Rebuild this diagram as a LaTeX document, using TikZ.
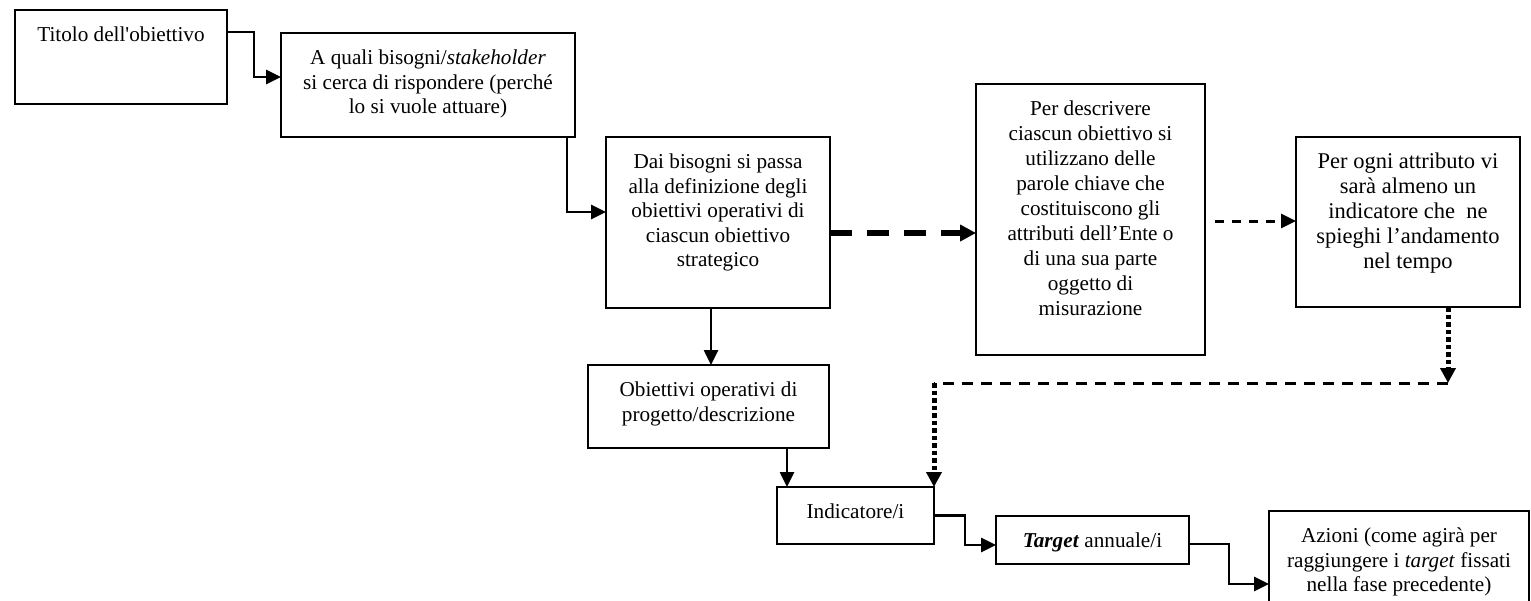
\documentclass[tikz,border=0pt]{standalone}
\usepackage{fontspec}
\setmainfont{Liberation Serif}
\usetikzlibrary{arrows.meta,calc}

\newcommand{\boxtext}[3]{\parbox[c][#2][t]{#1}{\centering\rule{0pt}{31.5pt}#3}}

\tikzset{every picture/.style={line width=2pt}}
\tikzset{
  stepbox/.style={draw, rectangle, anchor=north west, inner sep=0pt, outer sep=0pt, line width=2pt, font=\fontsize{21.2}{24.6}\selectfont},
  conn/.style={line width=2.6pt, -{Triangle[length=15pt,width=14pt]}},
  thickdash/.style={line width=5.5pt, dash pattern={on 22pt off 15pt}, -{Triangle[length=16pt,width=16pt]}},
  thindash/.style={line width=3pt, dash pattern={on 9pt off 8pt}, shorten <=10pt, -{Triangle[length=15pt,width=14pt]}},
  longdash/.style={line width=3pt, dash pattern={on 11pt off 8pt}},
  dotarrow/.style={line width=5pt, dash pattern={on 4.5pt off 3pt}, -{Triangle[length=15pt,width=15pt]}},
}

\begin{document}
\begin{tikzpicture}[x=1pt,y=1pt,yscale=-1,xscale=1]
\useasboundingbox (0,0) rectangle (1531,600);
\clip (0,0) rectangle (1531,600);

%Shape: Rectangle
\node[stepbox] (titolo) at (15,10) {\boxtext{212pt}{94pt}{Titolo dell\textquotesingle obiettivo}};
%Shape: Rectangle
\node[stepbox] (bisogni) at (281,33) {\boxtext{294pt}{104pt}{A quali bisogni/\textit{stakeholder}\\ si cerca di rispondere (perché\\ lo si vuole attuare)}};
%Shape: Rectangle
\node[stepbox] (passa) at (606,137) {\boxtext{224pt}{171pt}{Dai bisogni si passa\\ alla definizione degli\\ obiettivi operativi di\\ ciascun obiettivo\\ strategico}};
%Shape: Rectangle
\node[stepbox, font=\fontsize{21.2}{25}\selectfont] (descr) at (976,84) {\boxtext{229pt}{271pt}{Per descrivere\\ ciascun obiettivo si\\ utilizzano delle\\ parole chiave che\\ costituiscono gli\\ attributi dell’Ente o\\ di una sua parte\\ oggetto di\\ misurazione}};
%Shape: Rectangle
\node[stepbox, font=\fontsize{22.5}{25}\selectfont] (attr) at (1296,137) {\boxtext{224pt}{170pt}{Per ogni attributo vi\\ sarà almeno un\\ indicatore che\ \ ne\\ spieghi l’andamento\\ nel tempo}};
%Shape: Rectangle
\node[stepbox] (operativi) at (588,365) {\boxtext{241pt}{83pt}{Obiettivi operativi di\\ progetto/descrizione}};
%Shape: Rectangle
\node[stepbox] (indic) at (777,487) {\boxtext{157pt}{57pt}{Indicatore/i}};
%Shape: Rectangle
\node[stepbox] (target) at (996,516) {\boxtext{193pt}{48pt}{\textbf{\textit{Target}} annuale/i}};
%Shape: Rectangle
\node[stepbox] (azioni) at (1269,511) {\boxtext{260pt}{110pt}{Azioni (come agirà per\\ raggiungere i \textit{target} fissati\\ nella fase precedente)}};

%Straight Lines
\draw[conn] ($(titolo.north east)+(0,22)$) -- ++(27,0) |- ($(bisogni.north west)+(0,44)$);
%Straight Lines
\draw[conn] ($(bisogni.south east)+(-47,0)$) -- ++(39,0) |- ($(passa.north west)+(0,75)$);
%Straight Lines
\draw[thickdash] ($(passa.north east)+(0,96)$) -- ($(descr.north west)+(0,149)$);
%Straight Lines
\draw[thindash] ($(descr.north east)+(0,137)$) -- ($(attr.north west)+(0,84)$);
%Straight Lines
\draw[conn] ($(passa.south west)+(105,0)$) coordinate (p1) -- (p1 |- operativi.north);
%Straight Lines
\draw[conn] ($(operativi.south west)+(199,0)$) coordinate (p2) -- (p2 |- indic.north);

% back from the attributes to the indicators
\coordinate (bend) at (1448,383);
\draw[dotarrow] (attr.south -| bend) -- (bend);
\draw[longdash] (bend) -- (bend -| indic.north east);
\draw[dotarrow] (bend -| indic.north east) -- (indic.north east);

%Straight Lines
\draw[conn] (indic.east) -- ++(31,0) |- ($(target.north west)+(0,29)$);
%Straight Lines
\draw[conn] ($(target.north east)+(0,28)$) -- ++(40,0) |- ($(azioni.north west)+(0,73)$);
\end{tikzpicture}
\end{document}
